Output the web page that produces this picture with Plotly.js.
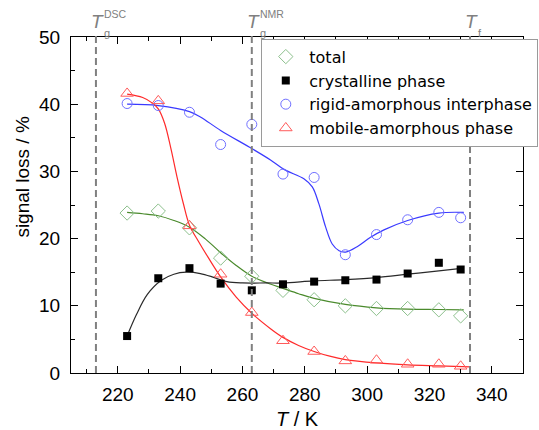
<!DOCTYPE html>
<html>
<head>
<meta charset="utf-8">
<script src="https://cdn.plot.ly/plotly-3.0.1.min.js"></script>
<style>html,body{margin:0;padding:0;background:#fff;}#chart{width:539px;height:430px;}</style>
</head>
<body>
<div id="chart"></div>
<script>
// ---- measured points ----
const temps = [223, 233, 243, 253, 263, 273, 283, 293, 303, 313, 323, 330];
const totalLoss = [23.8, 24.1, 21.6, 17.1, 14.4, 12.3, 10.9, 10.0, 9.6, 9.6, 9.4, 8.5];
const crystallineLoss = [5.5, 14.1, 15.6, 13.3, 12.3, 13.2, 13.6, 13.8, 13.9, 14.8, 16.4, 15.4];
const rigidLoss = [40.1, 39.8, 38.8, 34.0, 37.0, 29.6, 29.1, 17.6, 20.6, 22.8, 23.9, 23.1];
const mobileLoss = [41.6, 40.5, 21.9, 14.7, 9.0, 4.8, 3.2, 1.8, 1.9, 1.3, 1.3, 1.0];

// ---- fitted curves ----
const fitTotalT = [223, 228, 233, 238, 243, 248, 253, 258, 263, 268, 273, 278, 283, 293, 303, 313, 323, 331];
const fitTotal  = [23.9, 23.7, 23.4, 22.7, 21.7, 20.0, 17.9, 16.0, 14.4, 13.4, 12.6, 11.8, 11.1, 10.2, 9.7, 9.5, 9.45, 9.4];
const fitCrystT = [223, 226, 229.5, 234, 238, 242, 246.5, 251, 255, 260, 268, 273, 283, 293, 303, 313, 323, 331];
const fitCryst  = [5.5, 8.7, 11.7, 13.8, 14.7, 15.0, 14.8, 14.2, 13.6, 13.4, 13.4, 13.4, 13.7, 13.9, 14.2, 14.7, 15.2, 15.6];
const fitRigidT = [223, 233, 243, 246.5, 253, 263, 269, 273.3, 279.7, 282.4, 284.5, 286.7, 288.8, 291, 293.1, 296.8, 301.1, 305.4, 313, 323, 331];
const fitRigid  = [40.0, 39.8, 38.9, 38.1, 36.1, 33.4, 31.7, 30.3, 28.9, 27.7, 25.2, 21.7, 19.2, 18.2, 18.0, 18.8, 20.2, 21.3, 22.7, 23.8, 23.9];
const fitMobileT = [223, 228, 231, 233, 235, 237, 239, 241, 243, 246, 249, 253, 258, 263, 269, 273, 278, 283, 288, 293, 303, 313, 323, 333];
const fitMobile  = [41.5, 41.0, 40.2, 39.3, 37.2, 33.5, 29.2, 25.3, 22.0, 19.5, 17.2, 14.3, 11.3, 8.9, 6.6, 5.3, 4.1, 3.2, 2.5, 2.0, 1.5, 1.2, 1.05, 0.9];

// ---- series labels ----
const seriesNames = ['total', 'crystalline phase', 'rigid-amorphous interphase', 'mobile-amorphous phase'];

// ---- characteristic temperatures ----
const markLinesT = [213, 263, 333];
const markSup = ['DSC', 'NMR', ''];
const markSub = ['g', 'g', 'f'];

const FONT = 'Liberation Sans, Arial, sans-serif';
const GRAY = '#808080';

function fitLine(x, y, color) {
  return {x: x, y: y, type: 'scatter', mode: 'lines', showlegend: false, hoverinfo: 'skip',
          line: {color: color, width: 1.2, shape: 'spline', smoothing: 1}};
}

const traces = [
  fitLine(fitTotalT, fitTotal, '#4a8a2c'),
  fitLine(fitCrystT, fitCryst, '#2a2a2a'),
  fitLine(fitRigidT, fitRigid, '#3a3aff'),
  fitLine(fitMobileT, fitMobile, '#ff2a2a'),
  {x: temps, y: totalLoss, type: 'scatter', mode: 'markers', name: seriesNames[0],
   marker: {symbol: 'diamond-open', size: 11, color: '#8cc08c', line: {width: 1}}},
  {x: temps, y: crystallineLoss, type: 'scatter', mode: 'markers', name: seriesNames[1],
   marker: {symbol: 'square', size: 8, color: '#000000'}},
  {x: temps, y: rigidLoss, type: 'scatter', mode: 'markers', name: seriesNames[2],
   marker: {symbol: 'circle-open', size: 10, color: '#7070ff', line: {width: 1}}},
  {x: temps, y: mobileLoss, type: 'scatter', mode: 'markers', name: seriesNames[3],
   marker: {symbol: 'triangle-up-open', size: 11, color: '#ff5a5a', line: {width: 1}}}
];

const shapes = markLinesT.map(t => ({
  type: 'line', xref: 'x', yref: 'paper', x0: t, x1: t, y0: 0, y1: 1.015, layer: 'above',
  line: {color: GRAY, width: 2, dash: '7px,4px'}
}));

const annotations = [];
markLinesT.forEach((t, i) => {
  annotations.push({xref: 'x', yref: 'paper', x: t, y: 1.046, xshift: 1.5, xanchor: 'center', yanchor: 'middle',
    text: '<i>T</i>', showarrow: false, font: {family: FONT, size: 19, color: GRAY}});
  if (markSup[i]) annotations.push({xref: 'x', yref: 'paper', x: t, y: 1.068, xshift: 6, xanchor: 'left', yanchor: 'middle',
    text: markSup[i], showarrow: false, font: {family: FONT, size: 10.5, color: GRAY}});
  annotations.push({xref: 'x', yref: 'paper', x: t, y: 1.013, xshift: 6, xanchor: 'left', yanchor: 'middle',
    text: markSub[i], showarrow: false, font: {family: FONT, size: 11, color: GRAY}});
});
// y-axis title (placed as in the reference, off-centre)
annotations.push({xref: 'paper', yref: 'paper', x: -0.108, y: 0.585, xanchor: 'center', yanchor: 'middle',
  textangle: -90, text: 'signal loss / %', showarrow: false, font: {family: FONT, size: 19, color: '#000'}});

const axisCommon = {
  showline: true, linecolor: '#000', linewidth: 1, mirror: 'ticks',
  ticks: 'inside', ticklen: 7, tickwidth: 1, tickcolor: '#000',
  showgrid: false, zeroline: false,
  tickfont: {family: FONT, size: 19, color: '#000'}
};

const layout = {
  width: 539, height: 430,
  margin: {l: 71, r: 16, t: 37, b: 57, autoexpand: false},
  paper_bgcolor: '#fff', plot_bgcolor: '#fff',
  font: {family: FONT, color: '#000'},
  xaxis: Object.assign({}, axisCommon, {
    range: [205, 350], tick0: 220, dtick: 20,
    minor: {ticks: 'inside', ticklen: 4, dtick: 10, tick0: 210, tickcolor: '#000'},
    ticklabelstandoff: 4,
    title: {text: '<i>T</i> / K', font: {family: FONT, size: 20}, standoff: 9}
  }),
  yaxis: Object.assign({}, axisCommon, {
    range: [0, 50], tick0: 0, dtick: 10,
    minor: {ticks: 'inside', ticklen: 4, dtick: 5, tickcolor: '#000'},
    ticklabelstandoff: 6
  }),
  legend: {x: 0.421, y: 0.995, xanchor: 'left', yanchor: 'top', bgcolor: '#fff',
    bordercolor: '#9a9a9a', borderwidth: 1, itemwidth: 37,
    font: {family: 'DejaVu Sans, Liberation Sans, sans-serif', size: 16, color: '#000'}},
  shapes: shapes,
  annotations: annotations
};

Plotly.newPlot('chart', traces, layout, {staticPlot: true, displayModeBar: false});
</script>
</body>
</html>
